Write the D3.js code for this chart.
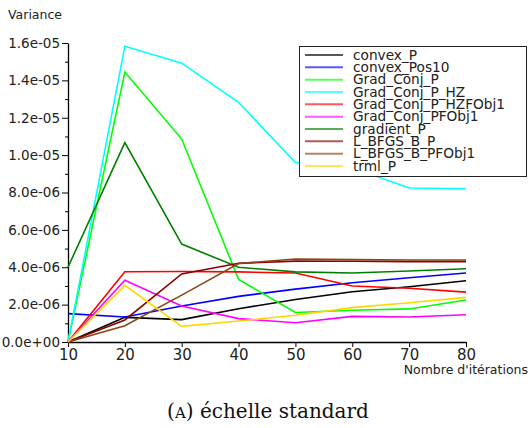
<!DOCTYPE html>
<html>
<head>
<meta charset="utf-8">
<script src="https://cdn.jsdelivr.net/npm/d3@7"></script>
<style>
  html, body { margin: 0; padding: 0; background: #fff; }
  svg { display: block; }
  .tick text { font-family: "DejaVu Sans", sans-serif; font-size: 13px; fill: #222; }
</style>
</head>
<body>
<svg id="chart" width="531" height="428"></svg>
<script>
// Iteration counts along the x axis
const iterations = [10, 20, 30, 40, 50, 60, 70, 80];

// Variance per method (units of 1e-6)
const convex_P            = [0, 1.32, 1.20, 1.78, 2.27, 2.69, 2.96, 3.28];
const convex_Pos10        = [1.52, 1.34, 1.93, 2.44, 2.83, 3.17, 3.44, 3.69];
const Grad_Conj_P         = [0, 14.45, 10.86, 3.35, 1.58, 1.70, 1.77, 2.25];
const Grad_Conj_P_HZ      = [0, 15.83, 14.92, 12.82, 9.60, 9.32, 8.24, 8.20];
const Grad_Conj_P_HZFObj1 = [0, 3.76, 3.77, 3.75, 3.69, 3.00, 2.88, 2.67];
const Grad_Conj_PFObj1    = [0, 3.30, 1.93, 1.25, 1.03, 1.37, 1.34, 1.46];
const gradient_P          = [4.00, 10.67, 5.24, 4.00, 3.75, 3.69, 3.80, 3.92];
const L_BFGS_B_P          = [0, 1.18, 3.64, 4.21, 4.33, 4.32, 4.30, 4.30];
const L_BFGS_B_PFObj1     = [0, 0.87, 2.51, 4.20, 4.44, 4.41, 4.39, 4.39];
const trml_P              = [0, 3.03, 0.84, 1.12, 1.43, 1.84, 2.10, 2.39];

const seriesNames = ["convex_P", "convex_Pos10", "Grad_Conj_P", "Grad_Conj_P_HZ",
  "Grad_Conj_P_HZFObj1", "Grad_Conj_PFObj1", "gradient_P", "L_BFGS_B_P",
  "L_BFGS_B_PFObj1", "trml_P"];
const seriesValues = [convex_P, convex_Pos10, Grad_Conj_P, Grad_Conj_P_HZ,
  Grad_Conj_P_HZFObj1, Grad_Conj_PFObj1, gradient_P, L_BFGS_B_P,
  L_BFGS_B_PFObj1, trml_P];
const seriesColors = ["#000000", "#0000ff", "#00ff00", "#00ffff", "#ff0000",
  "#ff00ff", "#008000", "#8b0000", "#8b4513", "#ffd700"];

const valueScale = 1e-6;
const yMajorTicks = [0, 2e-6, 4e-6, 6e-6, 8e-6, 1e-5, 1.2e-5, 1.4e-5, 1.6e-5];
const yMinorTicks = [1e-6, 3e-6, 5e-6, 7e-6, 9e-6, 1.1e-5, 1.3e-5, 1.5e-5];
const xTicks = iterations;

const yTitle = "Variance";
const xTitle = "Nombre d'itérations";

const svg = d3.select("#chart");

const x = d3.scaleLinear().domain([10, 80]).range([68, 466]);
const y = d3.scaleLinear().domain([0, 1.6e-5]).range([342, 43]);

// Scientific labels with a two-digit exponent, e.g. 1.6e-05
function sci(v) {
  const s = v.toExponential(1);
  const m = s.match(/^(.*)e([+-])(\d+)$/);
  return m[1] + "e" + m[2] + m[3].padStart(2, "0");
}

// y axis: major ticks with labels, minor ticks between them
const yAxisG = svg.append("g").attr("transform", "translate(68,0)")
  .call(d3.axisLeft(y).tickValues(yMajorTicks).tickFormat(sci).tickSize(6).tickPadding(2).tickSizeOuter(0));
svg.append("g").attr("transform", "translate(68,0)")
  .call(d3.axisLeft(y).tickValues(yMinorTicks).tickFormat("").tickSize(3).tickSizeOuter(0))
  .select(".domain").remove();

// x axis
const xAxisG = svg.append("g").attr("transform", "translate(0,342)")
  .call(d3.axisBottom(x).tickValues(xTicks).tickFormat(d3.format("d")).tickSize(5).tickPadding(2).tickSizeOuter(0));

svg.selectAll(".domain").attr("stroke", "#000").attr("stroke-width", 1.3);
svg.selectAll(".tick line").attr("stroke", "#000");
xAxisG.selectAll(".tick text").style("font-size", "15px").attr("dy", "0.72em");
yAxisG.selectAll(".tick text").style("font-size", "13.5px");

// Axis titles
svg.append("text").attr("x", 8).attr("y", 19)
  .attr("font-family", "DejaVu Sans, sans-serif").attr("font-size", 12.5).attr("fill", "#222")
  .text(yTitle);
svg.append("text").attr("x", 528).attr("y", 374).attr("text-anchor", "end")
  .attr("font-family", "DejaVu Sans, sans-serif").attr("font-size", 12.5).attr("fill", "#222")
  .text(xTitle);

// Series lines
const line = d3.line().x((d, i) => x(iterations[i])).y(d => y(d * valueScale));
const plot = svg.append("g");
seriesValues.forEach((vals, k) => {
  plot.append("path").datum(vals)
    .attr("d", line)
    .attr("fill", "none")
    .attr("stroke", seriesColors[k])
    .attr("stroke-width", 1.6)
    .attr("stroke-linejoin", "miter");
});

// Legend box
const legend = svg.append("g");
legend.append("rect").attr("x", 299.5).attr("y", 46.5).attr("width", 227).attr("height", 130)
  .attr("fill", "#fff").attr("stroke", "#222").attr("stroke-width", 1);
seriesNames.forEach((name, k) => {
  const cy = 55 + k * 12.33;
  legend.append("line").attr("x1", 305).attr("x2", 343).attr("y1", cy).attr("y2", cy)
    .attr("stroke", seriesColors[k]).attr("stroke-width", 2).attr("stroke-opacity", 0.65);
  legend.append("text").attr("x", 353).attr("y", cy + 4.6)
    .attr("font-family", "DejaVu Sans, sans-serif").attr("font-size", 13.7).attr("fill", "#222")
    .text(name);
});

// Caption
const cap = svg.append("text").attr("x", 268).attr("y", 418).attr("text-anchor", "middle")
  .attr("font-family", "DejaVu Serif, serif").attr("font-size", 20).attr("fill", "#111");
cap.append("tspan").text("(");
cap.append("tspan").attr("font-size", 15).text("A");
cap.append("tspan").text(") échelle standard");
</script>
</body>
</html>
